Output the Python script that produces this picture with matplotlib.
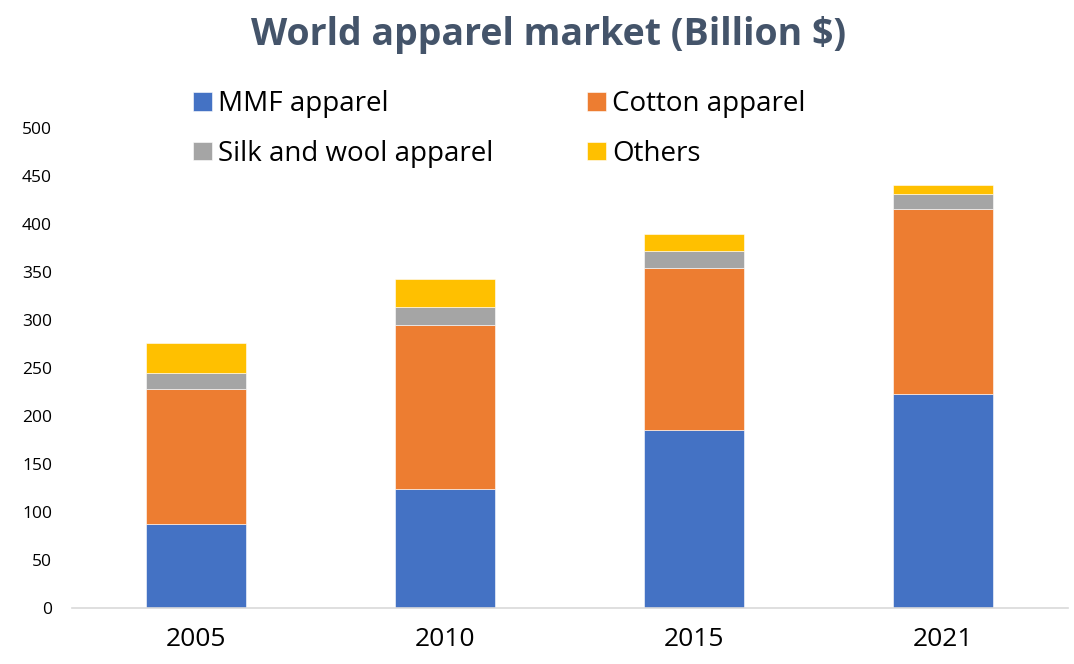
import matplotlib
matplotlib.use("Agg")
import matplotlib.pyplot as plt
import numpy as np

plt.rcParams['font.family'] = ['Open Sans', 'DejaVu Sans']

years = ["2005", "2010", "2015", "2021"]
series_names = ["MMF apparel", "Cotton apparel", "Silk and wool apparel", "Others"]
mmf = [88, 124, 186, 223]
cotton = [140, 171, 168, 193]
silk_wool = [17, 18.5, 18, 16]
others = [31, 29, 18, 9]
colors = ["#4472C4", "#ED7D31", "#A5A5A5", "#FFC000"]
y_ticks = [0, 50, 100, 150, 200, 250, 300, 350, 400, 450, 500]

fig = plt.figure(figsize=(10.74, 6.64), dpi=100)
ax = fig.add_axes([0.0666, 0.0843, 0.9274, 0.7225])

x = np.arange(len(years))
bottom = np.zeros(len(years))
handles = []
for name, vals, col in zip(series_names, [mmf, cotton, silk_wool, others], colors):
    vals = np.array(vals, dtype=float)
    h = ax.bar(x, vals, width=0.4, bottom=bottom, color=col, label=name,
               edgecolor="white", linewidth=0.4)
    handles.append(h)
    bottom += vals

ax.set_xlim(-0.5, len(years) - 0.5)
ax.set_ylim(0, 500)
ax.set_yticks(y_ticks)
ax.set_yticklabels([str(t) for t in y_ticks])
ax.set_xticks(x)
ax.set_xticklabels(years)

for s in ["top", "right", "left"]:
    ax.spines[s].set_visible(False)
ax.spines["bottom"].set_color("#D9D9D9")
ax.spines["bottom"].set_linewidth(1.2)

ax.tick_params(axis="y", length=0, pad=14, labelsize=12.5, labelcolor="#000000")
ax.tick_params(axis="x", length=0, pad=14, labelsize=19, labelcolor="#000000")

fig.text(0.511, 0.947, "World apparel market (Billion $)", ha="center", va="center",
         fontsize=27, fontweight="bold", color="#44546A")

# two rows: MMF / Cotton on top, Silk and wool / Others below
order = [0, 2, 1, 3]
leg = fig.legend(handles=[handles[i] for i in order],
                 labels=[series_names[i] for i in order], ncol=2,
                 loc="upper left", bbox_to_anchor=(0.180, 0.864),
                 frameon=False, fontsize=20, handlelength=0.68, handleheight=0.65,
                 handletextpad=0.22, columnspacing=3.35, labelspacing=0.77,
                 borderaxespad=0, borderpad=0)

fig.savefig("out.png", dpi=100)
